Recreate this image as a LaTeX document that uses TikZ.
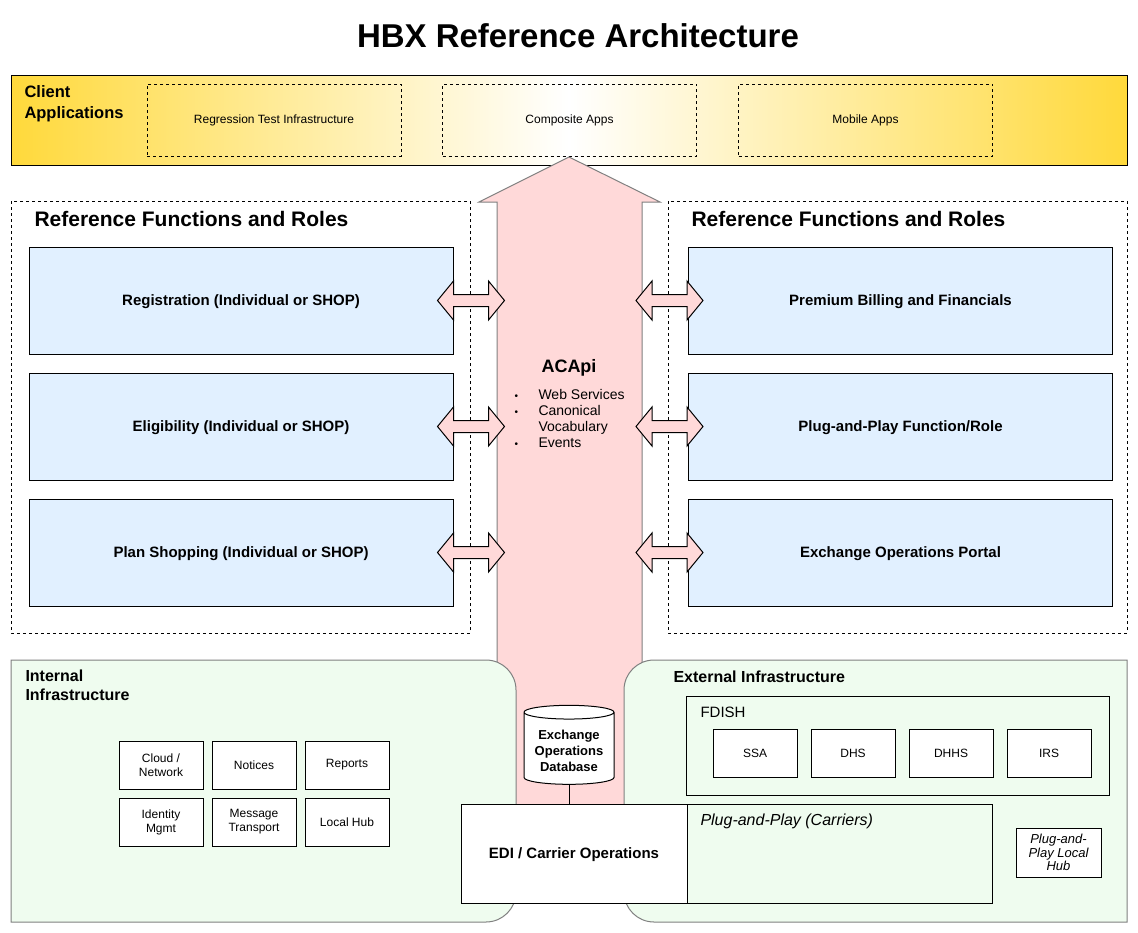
\documentclass[tikz,border=0pt]{standalone}
\usepackage{fontspec}
\setmainfont{Liberation Sans}
\usetikzlibrary{positioning,shapes.geometric}
\definecolor{gold}{HTML}{FFD93B}
\definecolor{funcblue}{HTML}{E1F0FF}
\definecolor{apipink}{HTML}{FFD9D9}
\definecolor{infragreen}{HTML}{EFFCEF}
\definecolor{edgegray}{HTML}{808080}
\tikzset{
     client app/.style = {draw, dash pattern=on 3pt off 3pt, minimum width=254pt, minimum height=72pt, font=\fontsize{12}{14}\selectfont},
     roles frame/.style = {draw, dash pattern=on 3pt off 3pt},
     roles title/.style = {font=\fontsize{21}{24}\selectfont\bfseries, inner sep=0pt},
     func box/.style = {draw, fill=funcblue, minimum width=424pt, minimum height=107pt, text height=11pt, text depth=2pt, font=\fontsize{15}{18}\selectfont\bfseries},
     dblarrow/.style = {draw=black, fill=apipink},
     region/.style = {draw=edgegray, fill=infragreen},
     head/.style = {font=\fontsize{16}{19}\selectfont\bfseries, align=left, inner sep=0pt},
     infra box/.style = {draw, fill=white, minimum width=84pt, minimum height=48pt, align=center, font=\fontsize{12}{14}\selectfont},
     database/.style = {cylinder, shape border rotate=90, draw, fill=white, aspect=0.2, minimum width=90pt, minimum height=79pt, inner sep=0pt, font=\fontsize{13}{16}\selectfont\bfseries},
    }

\begin{document}
\begin{tikzpicture}[x=1pt, y=-1pt, line width=1pt, on grid, node distance=126pt]
        \useasboundingbox (0,0) rectangle (1138,932);
        \node [font=\fontsize{33}{38}\selectfont\bfseries] (title) at (578,36) {HBX Reference Architecture};

        % client applications
        \draw [left color=gold, right color=gold, middle color=white] (11,75) rectangle (1127,165);
        \node [head, font=\fontsize{16.5}{21}\selectfont\bfseries, anchor=base west] (client) at (24,118.5) {Client\\Applications};
        \node [client app] (regtest) at (274,120) {Regression Test Infrastructure};
        \node [client app, node distance=295.5pt] (composite) [right of=regtest] {Composite Apps};
        \node [client app, node distance=296pt] (mobile) [right of=composite] {Mobile Apps};

        % reference functions and roles
        \draw [roles frame] (11,201) rectangle (470,633);
        \draw [roles frame] (668,201) rectangle (1127,633);
        \node [roles title, anchor=base west] (lefthead) at (34,226.5) {Reference Functions and Roles};
        \node [roles title, anchor=base west] (righthead) at (691,226.5) {Reference Functions and Roles};

        \node [func box] (reg)      at (241,300.5)   {Registration (Individual or SHOP)};
        \node [func box] (elig)     [below of=reg]   {Eligibility (Individual or SHOP)};
        \node [func box] (shop)     [below of=elig]  {Plan Shopping (Individual or SHOP)};
        \node [func box] (billing)  at (900.5,300.5) {Premium Billing and Financials};
        \node [func box] (plugplay) [below of=billing]  {Plug-and-Play Function/Role};
        \node [func box] (portal)   [below of=plugplay] {Exchange Operations Portal};

        % ACApi
        \draw [draw=edgegray, fill=apipink] (497,830) -- (497,202) -- (479,202) -- (569,157) -- (660,202) -- (642,202) -- (642,830) -- cycle;
        \node [font=\fontsize{18}{21}\selectfont\bfseries] (acapi) at (569,367.5) {ACApi};
        \node [anchor=base west, inner sep=0pt, font=\fontsize{14}{16}\selectfont] (acapilist) at (514,399)
            {\begin{tabular}[t]{@{}p{24pt}@{}l@{}}
              {\fontsize{10}{16}\selectfont\textbullet} & Web Services\\
              {\fontsize{10}{16}\selectfont\textbullet} & Canonical\\
                        & Vocabulary\\
              {\fontsize{10}{16}\selectfont\textbullet} & Events
             \end{tabular}};

        \foreach \fn in {reg,elig,shop}
            \draw [dblarrow] (\fn.east) ++(-16,0) -- ++(16,-19.5) -- ++(0,13.5) -- ++(35,0) -- ++(0,-13.5) -- ++(16,19.5)
                -- ++(-16,19.5) -- ++(0,-13.5) -- ++(-35,0) -- ++(0,13.5) -- cycle;
        \foreach \fn in {billing,plugplay,portal}
            \draw [dblarrow] (\fn.west) ++(-52,0) -- ++(16,-19.5) -- ++(0,13.5) -- ++(35,0) -- ++(0,-13.5) -- ++(16,19.5)
                -- ++(-16,19.5) -- ++(0,-13.5) -- ++(-35,0) -- ++(0,13.5) -- cycle;

        % infrastructure
        \draw [region] (11,660) -- (486,660) arc[start angle=270, end angle=360, radius=30] -- (516,892)
            arc[start angle=0, end angle=90, radius=30] -- (11,922) -- cycle;
        \draw [region] (1127,660) -- (654,660) arc[start angle=270, end angle=180, radius=30] -- (624,892)
            arc[start angle=180, end angle=90, radius=30] -- (1127,922) -- cycle;
        \node [head, anchor=base west] (internal) at (25,700) {Internal\\Infrastructure};
        \node [head, anchor=base west] (external) at (673,682) {External Infrastructure};

        \node [infra box] (cloud) at (161,765) {Cloud /\\Network};
        \node [infra box, node distance=93pt] (notices) [right of=cloud] {Notices};
        \node [infra box, node distance=93pt] (reports) [right of=notices] {Reports};
        \node [infra box, node distance=57pt] (identity) [below of=cloud] {Identity\\Mgmt};
        \node [infra box, node distance=57pt] (transport) [below of=notices] {Message\\Transport};
        \node [infra box, node distance=57pt] (localhub) [below of=reports] {Local Hub};

        \node [draw, minimum width=423pt, minimum height=99pt] (fdish) at (897.5,745.5) {};
        \node [anchor=base west, inner sep=0pt, font=\fontsize{15}{18}\selectfont] (fdishlabel) at (700,717.5) {FDISH};
        \node [infra box] (ssa) at (755,753) {SSA};
        \node [infra box, node distance=98pt] (dhs) [right of=ssa] {DHS};
        \node [infra box, node distance=98pt] (dhhs) [right of=dhs] {DHHS};
        \node [infra box, node distance=98pt] (irs) [right of=dhhs] {IRS};

        \node [database] (db) at (569,748.5)
            {\raisebox{-4pt}[\height][\depth]{\begin{tabular}{@{}c@{}}Exchange\\Operations\\Database\end{tabular}}};
        \node [draw, fill=white, minimum width=226pt, minimum height=99pt, text height=11pt, text depth=2pt, font=\fontsize{15}{18}\selectfont\bfseries] (edi) at (574,853.5) {EDI / Carrier Operations};
        \draw (db.south) -- (db.south |- edi.north);

        \node [draw, minimum width=305pt, minimum height=99pt] (carriers) at (839.5,853.5) {};
        \node [anchor=base west, inner sep=0pt, font=\fontsize{16}{19}\selectfont\itshape] (carrierslabel) at (700,825) {Plug-and-Play (Carriers)};
        \node [infra box, minimum width=85pt, minimum height=49pt, font=\fontsize{13}{13.5}\selectfont\itshape] (pnphub) at (1058.5,852.5) {Plug-and-\\Play Local\\Hub};
    \end{tikzpicture}
\end{document}
